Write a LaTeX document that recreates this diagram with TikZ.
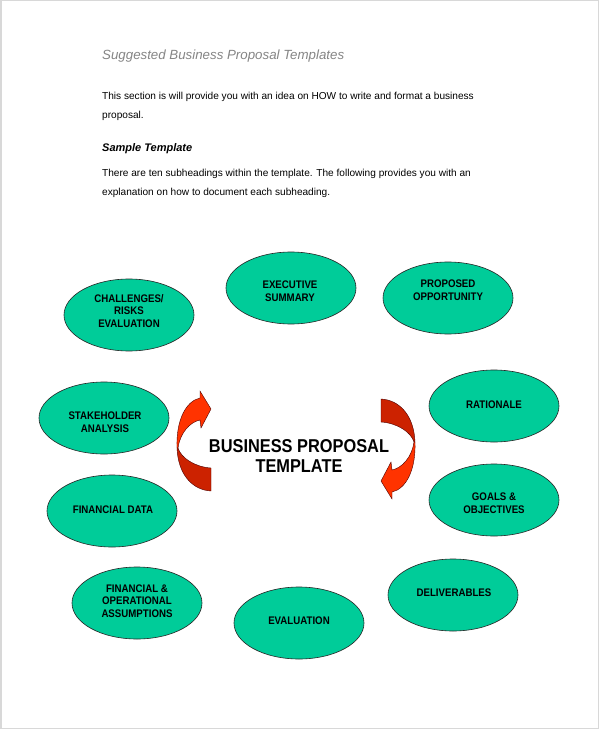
\documentclass[tikz,border=0pt]{standalone}
\usepackage{fontspec}
\setmainfont{Liberation Sans}[FakeStretch=0.88]
\newfontfamily\bodyfont{Liberation Sans}
\usetikzlibrary{shapes.geometric}
\definecolor{tealfill}{HTML}{00CC99}
\definecolor{redlight}{HTML}{FF3300}
\definecolor{reddark}{HTML}{CC2200}
\definecolor{titlegray}{HTML}{858585}
\definecolor{framegray}{HTML}{D8D8D8}
\tikzset{
  blob/.style={ellipse, draw=black!85, line width=0.6pt, fill=tealfill,
    minimum width=130pt, minimum height=72pt, inner sep=0pt},
  blobtext/.style={align=center, font=\fontsize{11}{12.5}\selectfont\bfseries, inner sep=0pt},
  bodytext/.style={anchor=base west, inner sep=0pt, font=\bodyfont\fontsize{10.1}{18}\selectfont},
  arrowlight/.style={fill=redlight, draw=black!70!red, line width=0.4pt},
  arrowdark/.style={fill=reddark, draw=black!70!red, line width=0.4pt},
  bigtext/.style={anchor=base, inner sep=0pt, font=\fontsize{18.6}{20}\selectfont\bfseries}
}
\begin{document}
\begin{tikzpicture}[x=1pt,y=-1pt]
\useasboundingbox (0,0) rectangle (600,730);
\fill[white] (0,0) rectangle (600,730);
\draw[framegray, line width=1.5pt] (0.75,0.75) rectangle (598.5,728.5);

% header text
\node[anchor=base west, inner sep=0pt, text=titlegray, font=\bodyfont\fontsize{13.3}{15}\selectfont\itshape] (title) at (102,60) {Suggested Business Proposal Templates};
\node[bodytext] (l1) at (102,100) {This section is will provide you with an idea on HOW to write and format a business};
\node[bodytext] (l2) at (102,119) {proposal.};
\node[bodytext, font=\bodyfont\fontsize{11}{18}\selectfont\bfseries\itshape] (sample) at (102,152) {Sample Template};
\node[bodytext] (l3) at (102,176) {There are ten subheadings within the template. The following provides you with an};
\node[bodytext] (l4) at (102,196) {explanation on how to document each subheading.};

% ellipses
\node[blob] (chal) at (129,315) {};
\node[blob] (exec) at (291,288) {};
\node[blob] (prop) at (448,298) {};
\node[blob] (stak) at (104,418) {};
\node[blob] (rati) at (494,406) {};
\node[blob] (fina) at (112,511) {};
\node[blob] (goal) at (494,500) {};
\node[blob] (fiop) at (137,603) {};
\node[blob] (deli) at (453,595) {};
\node[blob] (eval) at (299,623) {};

\node[blobtext] (chalt) at (129,311) {CHALLENGES/\\RISKS\\EVALUATION};
\node[blobtext] (exect) at (290,291) {EXECUTIVE\\SUMMARY};
\node[blobtext] (propt) at (448,290) {PROPOSED\\OPPORTUNITY};
\node[blobtext] (stakt) at (105,422) {STAKEHOLDER\\ANALYSIS};
\node[blobtext] (ratit) at (494,405) {RATIONALE};
\node[blobtext] (finat) at (113,510) {FINANCIAL DATA};
\node[blobtext] (goalt) at (494,503) {GOALS \&\\OBJECTIVES};
\node[blobtext] (fiopt) at (137,601) {FINANCIAL \&\\OPERATIONAL\\ASSUMPTIONS};
\node[blobtext] (delit) at (454,593) {DELIVERABLES};
\node[blobtext] (evalt) at (299,621) {EVALUATION};

% curved arrows
\begin{scope}
  \path[arrowdark] (177,448) .. controls (178,474) and (192,490) .. (211,491)
    -- (211,468) .. controls (195,467) and (181,458) .. (178,448) -- cycle;
  \path[arrowlight] (177,448) .. controls (176,420) and (186,401) .. (200,398)
    -- (200,391) -- (211,409) -- (201,428) -- (200,420)
    .. controls (190,422) and (180,433) .. (178,448) -- cycle;
\end{scope}
\begin{scope}[rotate around={180:(296,445)}]
  \path[arrowdark] (177,448) .. controls (178,474) and (192,490) .. (211,491)
    -- (211,468) .. controls (195,467) and (181,458) .. (178,448) -- cycle;
  \path[arrowlight] (177,448) .. controls (176,420) and (186,401) .. (200,398)
    -- (200,391) -- (211,409) -- (201,428) -- (200,420)
    .. controls (190,422) and (180,433) .. (178,448) -- cycle;
\end{scope}

\node[bigtext] (bp1) at (299,452) {BUSINESS PROPOSAL};
\node[bigtext] (bp2) at (299,472) {TEMPLATE};
\end{tikzpicture}
\end{document}
